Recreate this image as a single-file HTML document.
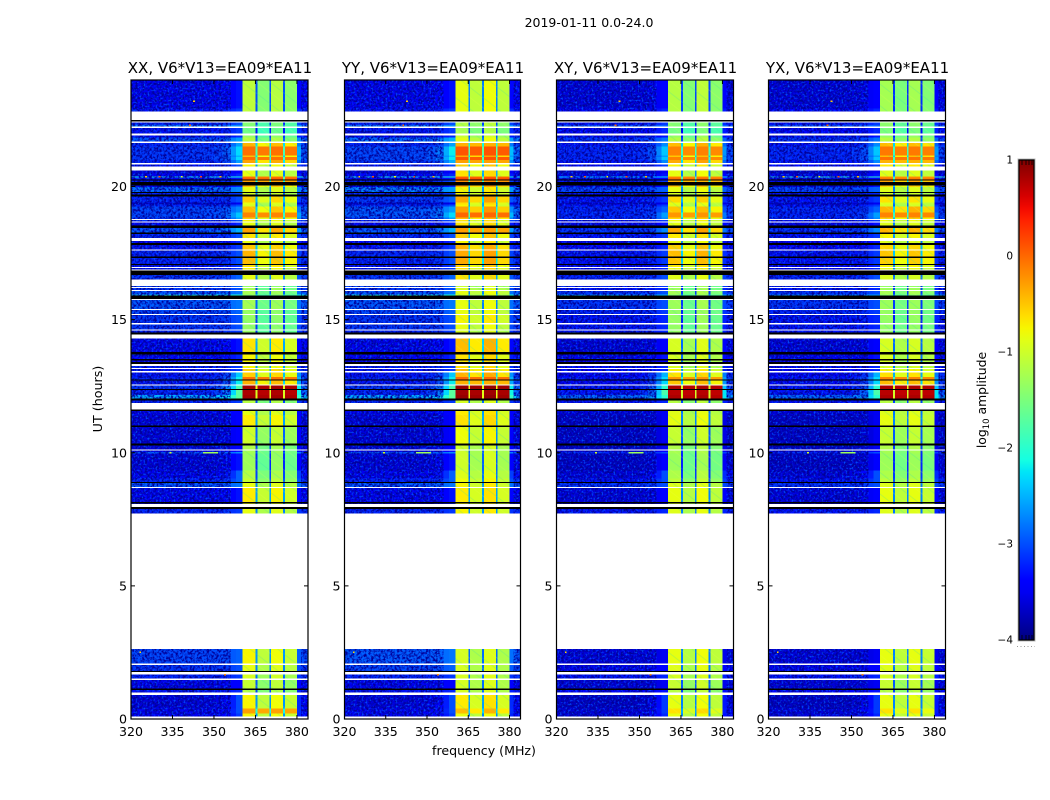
<!DOCTYPE html>
<html lang="en">
<head>
<meta charset="utf-8">
<title>2019-01-11 0.0-24.0</title>
<style>
html,body{margin:0;padding:0;background:#fff;width:1050px;height:800px;overflow:hidden}
svg{display:block}
text{font-family:"DejaVu Sans","Liberation Sans",sans-serif;fill:#000}
</style>
</head>
<body>
<svg id="chart" width="1050" height="800" viewBox="0 0 1050 800" xmlns="http://www.w3.org/2000/svg">
  <defs>
    <filter id="noise-dark" x="0" y="0" width="100%" height="100%" color-interpolation-filters="sRGB">
      <feTurbulence type="fractalNoise" baseFrequency="0.42" numOctaves="2" seed="4"/>
      <feColorMatrix values="0 0 0 0 0  0 0 0 0 0  0 0 0 0 .6  3.6 0 0 0 -1.4"/>
    </filter>
    <filter id="noise-light" x="0" y="0" width="100%" height="100%" color-interpolation-filters="sRGB">
      <feTurbulence type="fractalNoise" baseFrequency="0.5" numOctaves="2" seed="11"/>
      <feColorMatrix values="0 0 0 0 0  0 0 0 0 .3  0 0 0 0 1  0 4 0 0 -2.15"/>
    </filter>
    <pattern id="streak" width="17" height="17" patternUnits="userSpaceOnUse" patternTransform="rotate(38)">
      <rect x="0" y="0" width="17" height="1" fill="#30d8b8" opacity=".22"/>
      <rect x="0" y="8" width="17" height="1" fill="#e8ff50" opacity=".18"/>
    </pattern>
    <linearGradient id="jet-gradient" x1="0" y1="1" x2="0" y2="0"></linearGradient>
  </defs>
  <text x="589" y="27" text-anchor="middle" font-size="12.5">2019-01-11 0.0-24.0</text>
  <text x="484" y="755" text-anchor="middle" font-size="12.6">frequency (MHz)</text>
  <text transform="translate(102,399) rotate(-90)" text-anchor="middle" font-size="12.7">UT (hours)</text>
  <text transform="translate(986,400) rotate(-90)" text-anchor="middle" font-size="12.4">log<tspan font-size="8.5" dy="3">10</tspan><tspan dy="-3"> amplitude</tspan></text>
</svg>
<script>
// Row boundaries in UT hours, top to bottom
const utEdges = [
24.00,22.93,22.81,22.49,22.45,22.42,22.31,22.25,22.19,21.99,
21.91,21.84,21.69,21.63,21.50,21.16,21.11,20.99,20.88,20.83,
20.75,20.60,20.49,20.38,20.34,20.26,20.23,20.17,20.04,19.98,
19.79,19.76,19.70,19.62,19.40,19.32,19.25,19.02,18.84,18.78,
18.74,18.69,18.65,18.54,18.44,18.27,18.22,18.06,17.95,17.87,
17.81,17.64,17.60,17.37,17.32,17.09,17.05,16.97,16.93,16.89,
16.85,16.68,16.51,16.26,16.23,16.19,16.12,16.10,15.95,15.91,
15.78,15.76,15.40,15.37,15.22,15.20,14.88,14.81,14.63,14.60,
14.51,14.44,14.30,13.78,13.69,13.53,13.47,13.41,13.34,13.26,
13.19,13.14,13.07,13.02,12.84,12.76,12.72,12.57,12.53,12.40,
12.35,12.16,12.03,11.97,11.87,11.62,11.57,11.42,11.02,10.96,
10.34,10.28,10.13,10.09,10.03,9.97,9.34,9.03,8.90,8.86,
8.72,8.67,8.15,8.10,8.07,7.97,7.89,7.71,2.63,2.09,
2.03,1.80,1.76,1.68,1.53,1.46,1.15,1.09,0.99,0.90,
0.40,0.21,0.09,0.01,0];
// d = data, w = blank (no data), k = flagged black
const rowKinds = [
"ddwkwddwdw","ddwdddddwd","wddddkdkdd","kdkddddddw","dwdkdkdwdk",
"dwdkdkdwdw","kdwdwdwddk","wdwdwdwdwd","kwdkdkdkwd","wdwddkdwdk",
"ddkdwkddkd","kdwdddddkd","wdkdwkdwdw","dkwdwdkdwd","ddwd"].join("");
// Frequency bin edges in MHz
const freqEdges = [320,340,350,353,356,358,360.4,365,365.65,370,370.65,375,375.65,380,381.5,384];
const freqRoles = ["bg","bg","near1","near2","near3","ramp","band0","gap","band1","gap","band2","gap","band3","edge1","edge2"];
const panelNames = ["XX","YY","XY","YX"];
const baselineLabel = ", V6*V13=EA09*EA11";
const xTickValues = [320,335,350,365,380];
const yTickValues = [0,5,10,15,20];
const colorbarTicks = [1,0,-1,-2,-3,-4];
// Per data-row lift of the band-edge shoulder above the background (log10)
const rampBoost = [
.2,.2,.2,.0,.2,
.2,.3,.6,.8,.6,.8,.6,.3,
.2,.2,.0,.1,.2,.2,.1,
.1,.2,.2,.2,.3,.6,.5,
.2,.2,.4,.2,.2,
.2,.2,.2,.2,.2,
.2,.1,.1,.1,.0,
.1,.1,.1,.1,.1,
.2,.2,.1,.1,
.2,.9,1.0,1.1,1.3,
1.5,.8,.1,.1,.2,.2,
.2,.2,.2,.3,.6,.3,.1,
.2,.2,.1,.1,
.1,.1,.1,.1,.6,
.5,.4,.1];
const xxBackground = [
-3.3,-3.1,-3.0,-2.5,-3.1,
-3.2,-2.7,-3.0,-2.9,-2.9,-2.9,-3.0,-3.1,
-3.4,-3.2,-1.9,-3.2,-3.0,-3.2,-2.6,
-3.0,-3.0,-3.5,-3.0,-2.8,-2.8,-2.9,
-3.0,-3.2,-2.7,-3.0,-3.2,
-3.1,-3.0,-3.0,-3.1,-3.1,
-2.9,-2.8,-2.9,-2.7,-1.9,
-2.7,-2.8,-2.9,-2.9,-3.0,
-3.3,-3.2,-3.2,-3.0,
-3.1,-3.1,-3.0,-3.1,-2.9,
-3.0,-2.3,-3.0,-3.3,-3.4,-3.4,
-3.4,-3.3,-2.7,-3.4,-3.3,-3.0,-2.7,
-3.3,-3.2,-3.0,-2.8,
-2.9,-3.0,-3.3,-3.1,-3.4,
-3.3,-3.3,-3.3];
const xxBand = [
-1.25,-1.25,-1.6,-1.6,-1.7,
-1.5,-1.3,-0.55,-0.05,-0.6,-0.05,-0.45,-0.9,
-1.0,-1.0,-0.1,0.05,-0.3,-0.6,-1.0,
-1.1,-0.7,-1.0,-1.1,-0.6,-0.15,-0.7,
-0.9,-1.0,-0.45,-0.8,-1.0,
-0.65,-0.55,-0.6,-0.8,-0.9,
-1.0,-1.5,-1.4,-1.4,-1.6,
-1.4,-1.5,-1.5,-1.5,-1.5,
-0.8,-0.9,-0.9,-0.9,
-0.7,-0.7,-0.05,-0.55,0.85,
0.8,0.85,-1.3,-1.0,-0.85,-1.15,
-1.35,-1.4,-1.4,-1.45,-1.3,-1.2,-1.0,
-0.85,-1.0,-1.0,-0.9,
-1.0,-1.1,-1.2,-1.3,-0.9,
-0.3,-0.9,-1.0];
const yyBackground = [
-3.3,-3.1,-3.0,-2.5,-3.1,
-3.2,-2.6,-3.0,-2.8,-2.8,-2.8,-2.9,-3.1,
-3.4,-3.2,-1.9,-3.2,-3.0,-3.2,-2.5,
-3.0,-2.9,-3.5,-3.0,-2.7,-2.7,-2.9,
-3.0,-3.2,-2.7,-3.0,-3.2,
-3.1,-3.0,-3.0,-3.1,-3.1,
-2.9,-2.8,-2.9,-2.7,-1.9,
-2.7,-2.8,-2.9,-2.9,-3.0,
-3.3,-3.2,-3.2,-3.0,
-3.1,-3.1,-3.0,-3.1,-2.9,
-3.0,-2.3,-3.0,-3.3,-3.4,-3.4,
-3.4,-3.3,-2.7,-3.4,-3.3,-3.0,-2.7,
-3.3,-3.2,-3.0,-2.7,
-2.8,-3.0,-3.3,-3.1,-3.4,
-3.3,-3.3,-3.3];
const yyBand = [
-1.0,-1.0,-1.3,-1.3,-1.4,
-1.2,-1.0,-0.4,0.1,-0.5,0.1,-0.3,-0.7,
-0.8,-0.8,0.0,0.15,-0.2,-0.5,-0.9,
-0.9,-0.5,-0.8,-0.9,-0.45,0.0,-0.6,
-0.8,-0.8,-0.3,-0.7,-0.9,
-0.55,-0.5,-0.5,-0.7,-0.8,
-0.8,-1.2,-1.1,-1.0,-1.2,
-1.0,-1.0,-0.9,-1.0,-1.1,
-0.6,-0.8,-0.8,-0.8,
-0.6,-0.55,0.0,-0.4,0.9,
0.85,0.9,-1.1,-0.85,-0.8,-0.95,
-1.15,-1.15,-1.15,-1.15,-1.05,-0.95,-0.9,
-0.85,-0.9,-0.9,-1.1,
-1.1,-1.1,-1.1,-1.1,-0.85,
-0.6,-1.0,-1.0];
const xyBackground = [
-3.4,-3.2,-3.1,-2.7,-3.2,
-3.3,-2.9,-3.1,-3.0,-3.0,-3.0,-3.1,-3.2,
-3.5,-3.3,-2.1,-3.3,-3.1,-3.3,-2.8,
-3.1,-3.1,-3.5,-3.1,-3.0,-3.0,-3.0,
-3.1,-3.3,-2.9,-3.1,-3.3,
-3.2,-3.1,-3.1,-3.2,-3.2,
-3.0,-3.0,-3.1,-2.9,-2.3,
-2.9,-3.0,-3.1,-3.1,-3.1,
-3.4,-3.3,-3.3,-3.1,
-3.2,-3.2,-3.1,-3.2,-3.1,
-3.1,-2.6,-3.1,-3.4,-3.5,-3.5,
-3.5,-3.4,-3.0,-3.5,-3.4,-3.1,-2.9,
-3.4,-3.3,-3.1,-3.4,
-3.3,-3.1,-3.4,-3.2,-3.5,
-3.4,-3.4,-3.4];
const xyBand = [
-1.3,-1.3,-1.6,-1.6,-1.7,
-1.5,-1.3,-0.6,-0.15,-0.65,-0.15,-0.5,-0.9,
-1.0,-1.0,-0.2,-0.05,-0.4,-0.65,-1.0,
-1.1,-0.75,-1.0,-1.1,-0.65,-0.25,-0.75,
-0.95,-1.0,-0.5,-0.85,-1.0,
-0.7,-0.6,-0.65,-0.85,-0.95,
-1.05,-1.5,-1.45,-1.4,-1.6,
-1.45,-1.5,-1.5,-1.5,-1.5,
-1.1,-1.1,-1.1,-1.1,
-0.9,-0.8,-0.25,-0.65,0.8,
0.75,0.8,-1.3,-1.05,-1.0,-1.2,
-1.35,-1.4,-1.4,-1.45,-1.35,-1.25,-1.05,
-1.0,-1.05,-1.05,-1.0,
-1.05,-1.1,-1.2,-1.3,-1.0,
-0.8,-1.0,-1.05];
const yxBackground = [
-3.4,-3.2,-3.1,-2.7,-3.2,
-3.3,-2.9,-3.1,-3.0,-3.0,-3.0,-3.1,-3.2,
-3.5,-3.3,-1.8,-3.3,-3.1,-3.3,-2.8,
-3.1,-3.1,-3.5,-3.1,-3.0,-3.0,-3.0,
-3.1,-3.3,-2.9,-3.1,-3.3,
-3.2,-3.1,-3.1,-3.2,-3.2,
-3.0,-3.0,-3.1,-2.9,-2.4,
-2.9,-3.0,-3.1,-3.1,-3.1,
-3.4,-3.3,-3.3,-3.1,
-3.2,-3.2,-3.1,-3.2,-3.1,
-3.1,-2.6,-3.1,-3.4,-3.5,-3.5,
-3.5,-3.4,-3.0,-3.5,-3.4,-3.1,-2.9,
-3.4,-3.3,-3.1,-3.4,
-3.3,-3.1,-3.4,-3.2,-3.5,
-3.4,-3.4,-3.4];
const yxBand = [
-1.4,-1.4,-1.55,-1.55,-1.65,
-1.5,-1.3,-0.6,-0.1,-0.6,-0.05,-0.4,-0.85,
-1.05,-1.05,-0.25,-0.1,-0.45,-0.7,-1.05,
-1.15,-0.8,-1.05,-1.15,-0.55,-0.15,-0.7,
-0.95,-1.05,-0.55,-0.9,-1.05,
-0.75,-0.65,-0.7,-0.9,-1.0,
-1.1,-1.5,-1.45,-1.4,-1.6,
-1.45,-1.5,-1.5,-1.5,-1.5,
-1.1,-1.1,-1.1,-1.1,
-0.9,-0.8,-0.15,-0.6,0.8,
0.75,0.8,-1.3,-1.05,-1.0,-1.2,
-1.35,-1.4,-1.4,-1.45,-1.35,-1.25,-1.05,
-1.0,-1.05,-1.05,-1.0,
-1.05,-1.1,-1.2,-1.3,-1.0,
-0.8,-1.0,-1.05];
// Sub-band offsets for each polarisation (four sub-bands, log10)
const xxTilt = [.05,-.3,0,-.25];
const yyTilt = [.05,-.2,.1,-.2];
const xyTilt = [.05,-.25,.1,-.2];
const yxTilt = [.05,-.2,.05,-.15];
// Isolated interference spikes: frequency, span in MHz, UT and log10 amplitude
const hotFreq = [353.6,342.4,334.0,346.0,325.0,330.0,338.0,345.0,352.0,323.0,341.0];
const hotSpan = [0.7,0.7,0.7,5.5,0.7,0.7,0.7,0.7,0.7,0.7,0.7];
const hotUT   = [1.65,23.2,10.0,10.0,20.36,20.36,20.36,20.36,20.36,2.5,22.3];
const hotLevel= [-0.2,-0.5,-1.0,-1.3,-0.5,0.1,-0.8,0.2,-0.4,-0.6,0.0];

const panelBackgrounds = [xxBackground,yyBackground,xyBackground,yxBackground];
const panelBands = [xxBand,yyBand,xyBand,yxBand];
const panelTilts = [xxTilt,yyTilt,xyTilt,yxTilt];

const NS = "http://www.w3.org/2000/svg";
const svg = document.getElementById("chart");
const frames = [[131,177],[344.5,176],[556.5,177],[768.5,177]];
const plotTop = 80, plotBottom = 719;
const freqMin = 320, freqMax = 384, utMin = 0, utMax = 24;
const levelMin = -4, levelMax = 1;
const backgroundTrim = -0.2;
const quietBandTrim = 0.1;

function jet(t){
  t = Math.max(0,Math.min(1,t));
  const r = t<.35?0:t<.66?(t-.35)/.31:t<.89?1:1-(t-.89)/.11*.5;
  const g = t<.125?0:t<.375?(t-.125)/.25:t<.64?1:t<.91?1-(t-.64)/.27:0;
  const b = t<.11?.5+t/.11*.5:t<.34?1:t<.65?1-(t-.34)/.31:0;
  return "rgb("+Math.round(r*255)+","+Math.round(g*255)+","+Math.round(b*255)+")";
}
function levelColor(v){ return jet((v-levelMin)/(levelMax-levelMin)); }
function make(parent,tag,attrs){
  const el = document.createElementNS(NS,tag);
  for(const k in attrs) el.setAttribute(k,attrs[k]);
  parent.appendChild(el);
  return el;
}
function cellLevel(role,b,lv,boost,tilt){
  if(role==="bg") return b;
  if(role==="near1") return b+boost*.1;
  if(role==="near2") return b+boost*.3;
  if(role==="near3") return b+boost*.6;
  if(role==="ramp") return b+boost;
  if(role==="edge1") return b+boost*.7;
  if(role==="edge2") return b+boost*.25;
  if(role==="gap") return Math.max(b,lv-1.75);
  return lv+(lv<-0.4?quietBandTrim+tilt[+role.slice(4)]:.15*tilt[+role.slice(4)]);
}

const gradient = document.getElementById("jet-gradient");
for(let i=0;i<=40;i++){
  make(gradient,"stop",{offset:(i/40),"stop-color":jet(i/40)});
}

panelNames.forEach(function(name,p){
  const x0 = frames[p][0], w = frames[p][1];
  const xScale = function(f){ return x0+(f-freqMin)/(freqMax-freqMin)*w; };
  const yScale = function(h){ return plotBottom-(h-utMin)/(utMax-utMin)*(plotBottom-plotTop); };
  const bg = panelBackgrounds[p], band = panelBands[p], tilt = panelTilts[p];
  const lower = name.toLowerCase();

  const group = make(svg,"g",{});
  
  
  const cells = make(group,"g",{"shape-rendering":"crispEdges"});
  
  

  // First pass: measured cells
  let dataIndex = 0;
  for(let r=0;r<rowKinds.length;r++){
    if(rowKinds[r]!=="d") continue;
    const yTop = yScale(utEdges[r]), yBot = yScale(utEdges[r+1]);
    const h = Math.max(1,yBot-yTop);
    const b = bg[dataIndex]+backgroundTrim, lv = band[dataIndex], boost = rampBoost[dataIndex];
    dataIndex++;
    for(let c=0;c<freqRoles.length;c++){
      const v = cellLevel(freqRoles[c],b,lv,boost,tilt);
      const xa = xScale(freqEdges[c]), xb = xScale(freqEdges[c+1]);
      const cell = make(cells,"rect",{x:xa,y:yTop,width:xb-xa,height:h,fill:levelColor(v)});
      
      
    }
    if(lv<-0.5){
      const st = make(cells,"rect",{x:xScale(360.4),y:yTop,width:xScale(380)-xScale(360.4),height:h,fill:"url(#streak)"});
      
      
    }
  }
  // Receiver-noise grain over the out-of-band regions
  [[320,36],[381.5,2.5]].forEach(function(span){
    ["noise-dark","noise-light"].forEach(function(fid){
      const grain = make(cells,"rect",{x:xScale(span[0]),y:plotTop,width:xScale(span[0]+span[1])-xScale(span[0]),height:plotBottom-plotTop,filter:"url(#"+fid+")"});
      
      
    });
  });
  // Second pass: blank and flagged rows over the grain
  for(let r=0;r<rowKinds.length;r++){
    const kind = rowKinds[r];
    if(kind==="d") continue;
    const yTop = yScale(utEdges[r]), yBot = yScale(utEdges[r+1]);
    const h = Math.max(1,yBot-yTop);
    const rowRect = make(cells,"rect",{x:x0,y:yTop,width:w,height:h,fill:kind==="w"?"#fff":"#000"});
    
    
  }
  hotFreq.forEach(function(f,i){
    const spot = make(cells,"rect",{x:xScale(f),y:yScale(hotUT[i])-1,width:xScale(f+hotSpan[i])-xScale(f),height:1.5,fill:levelColor(hotLevel[i])});
    
    
  });

  const frame = make(group,"rect",{x:x0,y:plotTop,width:w,height:plotBottom-plotTop,fill:"none",stroke:"#000","stroke-width":1.2});
  
  

  xTickValues.forEach(function(t){
    const x = xScale(t);
    const tickB = make(group,"line",{x1:x,x2:x,y1:plotBottom,y2:plotBottom-4,stroke:"#000"});
    
    
    const tickT = make(group,"line",{x1:x,x2:x,y1:plotTop,y2:plotTop+4,stroke:"#000"});
    
    
    const label = make(group,"text",{x:x,y:736,"text-anchor":"middle","font-size":12.6});
    
    
    label.textContent = t;
  });
  yTickValues.forEach(function(t){
    const y = yScale(t);
    const tickL = make(group,"line",{x1:x0,x2:x0+4,y1:y,y2:y,stroke:"#000"});
    
    
    const tickR = make(group,"line",{x1:x0+w,x2:x0+w-4,y1:y,y2:y,stroke:"#000"});
    
    
    const label = make(group,"text",{x:x0-4,y:y+4.5,"text-anchor":"end","font-size":12.6});
    
    
    label.textContent = t;
  });
  const title = make(group,"text",{x:x0+w/2+0.5,y:73,"text-anchor":"middle","font-size":"15"});
  
  
  title.textContent = name+baselineLabel;
});

// Colorbar
const barX = 1019, barW = 15, barTop = 160, barBottom = 640;
const cbScale = function(v){ return barBottom-(v-levelMin)/(levelMax-levelMin)*(barBottom-barTop); };
const barGroup = make(svg,"g",{});


const halo = make(barGroup,"rect",{x:barX-1,y:barTop-1,width:barW+2,height:barBottom-barTop+2,fill:"none",stroke:"#bbb","stroke-width":1});


const barRect = make(barGroup,"rect",{x:barX,y:barTop,width:barW,height:barBottom-barTop,fill:"url(#jet-gradient)",stroke:"#000","stroke-width":1.2});


colorbarTicks.forEach(function(t){
  const label = make(barGroup,"text",{x:1013,y:cbScale(t)+3.5,"text-anchor":"end","font-size":"10.5"});
  
  
  label.textContent = t<0?"\u2212"+(-t):String(t);
});
[1022,1026,1029,1032].forEach(function(x){
  const topTick = make(barGroup,"line",{x1:x,x2:x,y1:barTop,y2:barTop+5,stroke:"#000","stroke-width":.8});
  
  
  const botTick = make(barGroup,"line",{x1:x,x2:x,y1:barBottom,y2:barBottom-5,stroke:"#000","stroke-width":.8});
  
  
});
const dots = make(barGroup,"line",{x1:1017,x2:1035,y1:646.5,y2:646.5,stroke:"#999","stroke-width":1,"stroke-dasharray":"1 2.5"});


</script>
</body>
</html>
